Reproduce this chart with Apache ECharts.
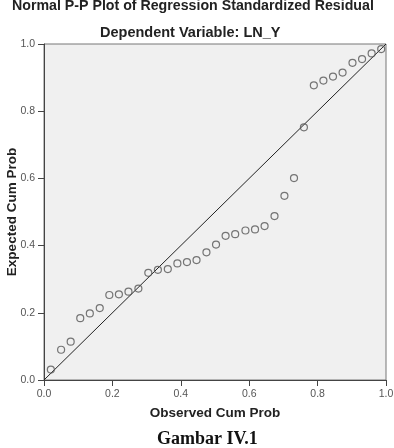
<!DOCTYPE html>
<html>
<head>
<meta charset="utf-8">
<title>Normal P-P Plot</title>
<style>
  html, body { margin: 0; padding: 0; background: #fff; }
  #container { width: 394px; height: 448px; }
</style>
</head>
<body>
<div id="container"></div>
<script src="https://cdn.jsdelivr.net/npm/echarts@6/dist/echarts.min.js"></script>
<script>
// observed cum prob (x) and expected cum prob (y)
var observed = [0.020, 0.050, 0.078, 0.106, 0.134, 0.163, 0.191, 0.219, 0.247, 0.276,
                0.305, 0.333, 0.362, 0.390, 0.418, 0.446, 0.475, 0.503, 0.531, 0.559,
                0.589, 0.617, 0.645, 0.674, 0.703, 0.731, 0.760, 0.789, 0.817, 0.845,
                0.873, 0.902, 0.930, 0.958, 0.986];
var expected = [0.031, 0.090, 0.114, 0.184, 0.198, 0.214, 0.253, 0.255, 0.263, 0.272,
                0.319, 0.328, 0.330, 0.347, 0.351, 0.357, 0.380, 0.403, 0.429, 0.434,
                0.445, 0.448, 0.458, 0.488, 0.548, 0.601, 0.752, 0.877, 0.891, 0.903,
                0.915, 0.944, 0.955, 0.972, 0.985];
var refLine = [[0, 0], [1, 1]];

var points = observed.map(function (x, i) { return [x, expected[i]]; });

var myChart = echarts.init(document.getElementById('container'));

var axisCommon = {
    min: 0,
    max: 1,
    interval: 0.2,
    axisLine: { show: true, lineStyle: { color: '#444', width: 1 } },
    axisTick: { show: true, length: 6, inside: false, lineStyle: { color: '#444' } },
    axisLabel: {
        color: '#555',
        fontFamily: 'Liberation Sans',
        fontSize: 10.5,
        margin: 9,
        formatter: function (v) { return v.toFixed(1); }
    },
    splitLine: { show: false },
    nameMoveOverlap: false,
    nameTextStyle: {
        color: '#222',
        fontFamily: 'Liberation Sans',
        fontWeight: 'bold',
        fontSize: 13.5
    }
};

myChart.setOption({
    animation: false,
    backgroundColor: '#fff',
    title: [{
        text: 'Normal P-P Plot of Regression Standardized Residual',
        left: 12,
        top: -1,
        padding: 0,
        textStyle: { color: '#222', fontFamily: 'Liberation Sans', fontWeight: 'bold', fontSize: 14.2 }
    }, {
        text: 'Dependent Variable: LN_Y',
        left: 100,
        top: 25,
        padding: 0,
        textStyle: { color: '#222', fontFamily: 'Liberation Sans', fontWeight: 'bold', fontSize: 14.5 }
    }, {
        text: 'Gambar IV.1',
        left: 157,
        top: 430,
        padding: 0,
        textStyle: { color: '#111', fontFamily: 'Liberation Serif', fontWeight: 'bold', fontSize: 18 }
    }],
    grid: {
        left: 44,
        right: 8,
        top: 44,
        bottom: 68,
        outerBoundsMode: 'none',
        containLabel: false,
        show: true,
        backgroundColor: '#f0f0f0',
        borderColor: '#777',
        borderWidth: 1
    },
    xAxis: Object.assign({}, axisCommon, {
        type: 'value',
        name: 'Observed Cum Prob',
        nameLocation: 'middle',
        nameGap: 26
    }),
    yAxis: Object.assign({}, axisCommon, {
        type: 'value',
        name: 'Expected Cum Prob',
        nameLocation: 'middle',
        nameGap: 25
    }),
    series: [{
        type: 'line',
        data: refLine,
        symbol: 'none',
        lineStyle: { color: '#222', width: 1 },
        z: 2
    }, {
        type: 'scatter',
        data: points,
        symbol: 'circle',
        symbolSize: 7,
        itemStyle: { color: 'transparent', borderColor: '#555', borderWidth: 1.2 },
        z: 3
    }]
});
</script>
</body>
</html>
